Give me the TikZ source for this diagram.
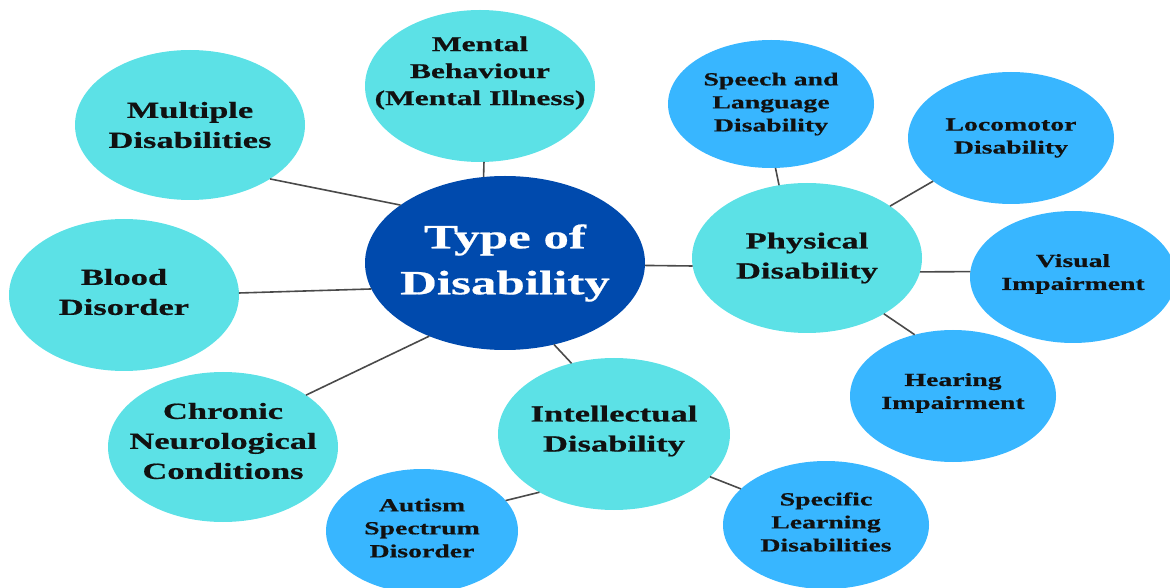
\documentclass[tikz,border=0pt]{standalone}
\usepackage{fontspec}
\newfontfamily\dfont{Liberation Serif}[FakeStretch=1.5, BoldFeatures={FakeBold=0.6}]
\usetikzlibrary{shapes.geometric}
\definecolor{dblue}{HTML}{004AAD}
\definecolor{cyanc}{HTML}{5CE1E6}
\definecolor{lblue}{HTML}{38B6FF}
\definecolor{linec}{HTML}{4A4A4A}
\definecolor{txtc}{HTML}{111111}
\tikzset{
  bub/.style={ellipse, inner sep=0pt, outer sep=0pt, draw=none},
  hub/.style={bub, fill=dblue},
  midb/.style={bub, fill=cyanc},
  leafb/.style={bub, fill=lblue},
  txt/.style={inner sep=0pt, align=center, text=txtc, font=\dfont\bfseries},
  hubtxt/.style={txt, text=white, font=\dfont\bfseries\fontsize{34}{46}\selectfont},
  midtxt/.style={txt, font=\dfont\bfseries\fontsize{23}{30}\selectfont},
  mentxt/.style={txt, font=\dfont\bfseries\fontsize{21}{27}\selectfont},
  leaftxt/.style={txt, font=\dfont\bfseries\fontsize{18.5}{23}\selectfont},
  link/.style={draw=linec, line width=1.6pt}
}
\begin{document}
\begin{tikzpicture}[x=1pt,y=1pt]
\useasboundingbox (0,0) rectangle (1170,587);
% bubbles
\node[hub,  minimum width=280pt, minimum height=174pt] (central) at (505,324) {};
\node[midb, minimum width=230pt, minimum height=152pt] (mental) at (480,501) {};
\node[midb, minimum width=230pt, minimum height=150pt] (multiple) at (190,462) {};
\node[midb, minimum width=230pt, minimum height=152pt] (blood) at (124,292) {};
\node[midb, minimum width=230pt, minimum height=150pt] (chronic) at (223,140) {};
\node[midb, minimum width=232pt, minimum height=152pt] (intel) at (614,153) {};
\node[midb, minimum width=230pt, minimum height=150pt] (physical) at (807,329) {};
\node[leafb, minimum width=192pt, minimum height=124pt] (autism) at (422,56) {};
\node[leafb, minimum width=206pt, minimum height=128pt] (specific) at (826,62) {};
\node[leafb, minimum width=206pt, minimum height=128pt] (speech) at (771,483) {};
\node[leafb, minimum width=206pt, minimum height=132pt] (locomotor) at (1011,449) {};
\node[leafb, minimum width=206pt, minimum height=132pt] (visual) at (1073,310) {};
\node[leafb, minimum width=206pt, minimum height=132pt] (hearing) at (953,191) {};
% connectors
\draw[link] (central.151.5) -- (multiple.-34.5);
\draw[link] (central.104.4) -- (mental.-87.7);
\draw[link] (central.-169) -- (blood.1.5);
\draw[link] (central.-136.5) -- (chronic.32);
\draw[link] (central.-59.3) -- (intel.121);
\draw[link] (central.-1) -- (physical.-176.5);
\draw[link] (physical.111) -- (speech.-86);
\draw[link] (physical.32) -- (locomotor.-151);
\draw[link] (physical.-7) -- (visual.177);
\draw[link] (physical.-36) -- (hearing.122);
\draw[link] (intel.-142) -- (autism.20.6);
\draw[link] (intel.-24) -- (specific.157);
% texts
\node[hubtxt] (centralT) at (central) {Type of\\Disability};
\node[mentxt] (mentalT) at ([yshift=13pt]mental.center) {Mental\\Behaviour\\(Mental Illness)};
\node[midtxt] (multipleT) at (multiple) {Multiple\\Disabilities};
\node[midtxt] (bloodT) at ([yshift=3pt]blood.center) {Blood\\Disorder};
\node[midtxt] (chronicT) at ([yshift=6pt]chronic.center) {Chronic\\Neurological\\Conditions};
\node[midtxt] (intelT) at ([yshift=3pt]intel.center) {Intellectual\\Disability};
\node[midtxt] (physicalT) at (physical) {Physical\\Disability};
\node[leaftxt] (autismT) at ([yshift=3pt]autism.center) {Autism\\Spectrum\\Disorder};
\node[leaftxt] (specificT) at ([yshift=3pt]specific.center) {Specific\\Learning\\Disabilities};
\node[leaftxt] (speechT) at (speech) {Speech and\\Language\\Disability};
\node[leaftxt] (locomotorT) at (locomotor) {Locomotor\\Disability};
\node[leaftxt] (visualT) at ([yshift=3pt]visual.center) {Visual\\Impairment};
\node[leaftxt] (hearingT) at ([yshift=3pt]hearing.center) {Hearing\\Impairment};
\end{tikzpicture}
\end{document}
